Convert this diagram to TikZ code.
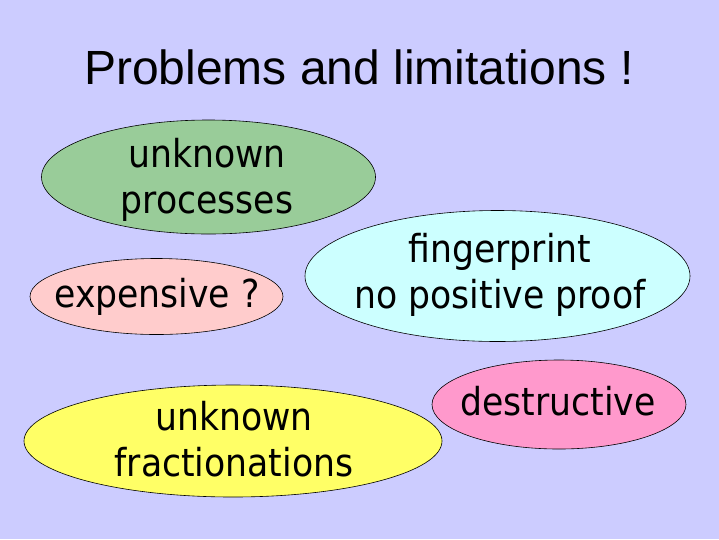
\documentclass[tikz,border=0pt]{standalone}
\usepackage{fontspec}
\setmainfont{Liberation Sans}
\newfontfamily\bubblefont{DejaVu Sans Condensed}
\usetikzlibrary{shapes.geometric}
\definecolor{bg}{HTML}{CCCCFF}
\definecolor{cgreen}{HTML}{99CC99}
\definecolor{cpink}{HTML}{FFCCCC}
\definecolor{ccyan}{HTML}{CCFFFF}
\definecolor{cmag}{HTML}{FF99CC}
\definecolor{cyel}{HTML}{FFFF66}
\begin{document}
\begin{tikzpicture}[x=1pt,y=-1pt,
  bubble/.style={ellipse, draw=black, line width=0.6pt, inner sep=0pt},
  bubbletext/.style={inner sep=0pt, align=center,
    font=\bubblefont\fontsize{38.5}{46.5}\selectfont},
  titlestyle/.style={inner sep=0pt, font=\fontsize{48}{58}\selectfont}]
\fill[bg] (0,0) rectangle (719,539);
\useasboundingbox (0,0) rectangle (719,539);
\node[titlestyle] (title) at (359,67) {Problems and limitations !};
\node[bubble, fill=cgreen, minimum width=334pt, minimum height=114pt] (e1) at (208.5,177) {};
\node[bubbletext] (t1) at (207,180) {unknown\\processes};
\node[bubble, fill=cpink, minimum width=253pt, minimum height=76pt] (e2) at (156.5,296.5) {};
\node[bubbletext] (t2) at (157,297) {expensive ?};
\node[bubble, fill=ccyan, minimum width=385pt, minimum height=131pt] (e3) at (497.5,276) {};
\node[bubbletext] (t3) at (500,275) {fingerprint\\no positive proof};
\node[bubble, fill=cmag, minimum width=254pt, minimum height=89pt] (e4) at (559,404.5) {};
\node[bubbletext] (t4) at (558,401) {destructive};
\node[bubble, fill=cyel, minimum width=418pt, minimum height=112pt] (e5) at (233,441) {};
\node[bubbletext] (t5) at (234,439) {unknown\\fractionations};
\end{tikzpicture}
\end{document}
